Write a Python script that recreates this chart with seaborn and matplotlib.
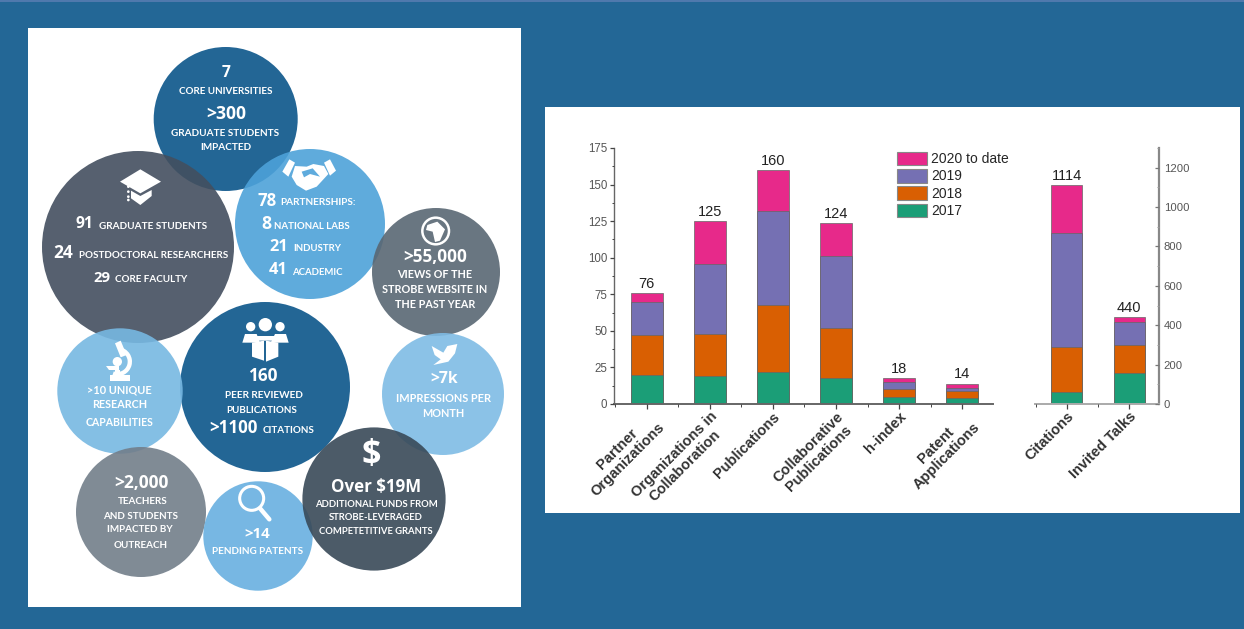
import numpy as np
import matplotlib
matplotlib.use("Agg")
import matplotlib.pyplot as plt
from matplotlib.patches import Circle, Polygon, Rectangle, Patch, Wedge
from matplotlib.ticker import MultipleLocator
import seaborn as sns

sns.set_theme(style="white")
W, H = 1244, 629

# ---------- chart data ----------
cats_left = ["Partner\nOrganizations", "Organizations in\nCollaboration", "Publications",
             "Collaborative\nPublications", "h-index", "Patent\nApplications"]
y2017_left = [20, 19, 22, 18, 5, 4]
y2018_left = [27, 29, 46, 34, 5, 5]
y2019_left = [23, 48, 64, 49, 5, 2]
y2020_left = [6, 29, 28, 23, 3, 3]
totals_left = [76, 125, 160, 124, 18, 14]

cats_right = ["Citations", "Invited Talks"]
y2017_right = [62, 156]
y2018_right = [227, 142]
y2019_right = [581, 118]
y2020_right = [244, 24]
totals_right = [1114, 440]

series_names = ["2017", "2018", "2019", "2020 to date"]
series_colors = ["#1b9e77", "#d95f02", "#7570b3", "#e7298a"]

# ---------- infographic content ----------
BLUE, GREY, SKY, SLATE = "#236696", "#56616f", "#5fabdd", "#6a7681"
circles = [  # x, y, r, colour (pixels)
    (225.7, 119, 72, BLUE), (138, 247, 96, GREY), (310, 224, 75, SKY), (436, 272, 64, SLATE),
    (265, 387, 85, BLUE), (120, 391, 62.7, "#85bfe5"), (443, 394, 61, "#8cc3e8"),
    (141, 512, 65, "#808b96"), (258, 536, 54.7, "#77b8e3"), (374, 499, 71.6, "#4c5b69"),
]
labels_small = [  # x, y, text, target width
    (225.7, 91, "CORE UNIVERSITIES", 94), (225, 133.7, "GRADUATE STUDENTS", 108), (226, 147.3, "IMPACTED", 51),
    (153, 226.7, "GRADUATE STUDENTS", 108), (153.7, 255.7, "POSTDOCTORAL RESEARCHERS", 149),
    (150.7, 279, "CORE FACULTY", 72), (317.7, 202.7, "PARTNERSHIPS:", 76), (312.3, 226.7, "NATIONAL LABS", 76),
    (317, 248.7, "INDUSTRY", 48), (317, 272.3, "ACADEMIC", 51), (435, 274.7, "VIEWS OF THE", 75),
    (434.3, 289.7, "STROBE WEBSITE IN", 105), (435, 305, "THE PAST YEAR", 80),
    (119.3, 389.7, ">10 UNIQUE", 65), (119.3, 405, "RESEARCH", 55), (119.3, 422, "CAPABILITIES", 68),
    (263.7, 395.3, "PEER REVIEWED", 78), (261.3, 410.7, "PUBLICATIONS", 71), (288.3, 430.7, "CITATIONS", 52),
    (443.3, 398.3, "IMPRESSIONS PER", 95), (443.7, 413.7, "MONTH", 42), (142.7, 501, "TEACHERS", 50),
    (140.7, 516.3, "AND STUDENTS", 75), (140, 530, "IMPACTED BY", 66), (141, 545.3, "OUTREACH", 54),
    (258, 552, "PENDING PATENTS", 91), (376, 504.7, "ADDITIONAL FUNDS FROM", 124),
    (376, 518, "STROBE-LEVERAGED", 94), (376, 531.7, "COMPETETITIVE GRANTS", 115),
]
labels_big = [
    (225.7, 73, "7", 9), (226, 114, ">300", 40), (84, 224, "91", 18), (63.3, 253, "24", 20), (102.3, 277.7, "29", 17),
    (266.7, 200.7, "78", 19), (266, 224, "8", 10), (279, 246.7, "21", 19), (278, 270, "41", 19),
    (435, 256.7, ">55,000", 64), (262.7, 375.7, "160", 30), (233.7, 428.3, ">1100", 49), (443.7, 379.3, ">7k", 28),
    (141.3, 483.3, ">2,000", 55), (257, 533.7, ">14", 26), (376, 486.7, "Over $19M", 90), (370.7, 455, "$", 19),
]

fig = plt.figure(figsize=(W / 100, H / 100), dpi=100, facecolor="#236796")
bg = fig.add_axes([0, 0, 1, 1], zorder=0)
bg.set_xlim(0, W); bg.set_ylim(H, 0); bg.axis("off")
bg.add_patch(Rectangle((0, 0), W, 2, fc="#4f79ad", ec="none"))
bg.add_patch(Rectangle((28, 28), 493, 579, fc="white", ec="none"))
bg.add_patch(Rectangle((545, 107), 695, 406, fc="white", ec="none"))

ALPHA = 0.9
for x, y, r, c in circles:
    rgb = np.array(matplotlib.colors.to_rgb(c))
    src = np.clip((rgb - (1 - ALPHA)) / ALPHA, 0, 1)
    bg.add_patch(Circle((x, y), r, fc=src, ec="none", alpha=ALPHA))

renderer = fig.canvas.get_renderer()
def fit(x, y, s, w, family, weight):
    t = bg.text(x, y, s, color="white", ha="center", va="center", family=family, weight=weight, fontsize=8)
    t.set_fontsize(8 * w / t.get_window_extent(renderer).width)
for x, y, s, w in labels_small:
    fit(x, y, s, w, "Lato", "bold")
for x, y, s, w in labels_big:
    fit(x, y, s, w, "Open Sans", "bold")

# ---------- icons (white shapes, zoom-crop coordinates divided by 3) ----------
def p2(pts):
    return [(30 + a / 3, 30 + b / 3) for a, b in pts]
def p3(pts):
    return [(30 + a / 3, 310 + b / 3) for a, b in pts]
def poly(pts, c="white"):
    bg.add_patch(Polygon(pts, closed=True, fc=c, ec="none"))
def circ(pt, r, c="white", **k):
    bg.add_patch(Circle(pt, r / 3, fc=c, ec="none", **k))
def ring(pt, r, lw):
    bg.add_patch(Circle(pt, r / 3, fc="none", ec="white", lw=lw))

# graduation cap
poly(p2([(331, 418), (393, 455), (331, 490), (270, 455)]))
poly(p2([(303, 482), (331, 498), (365, 480), (365, 498), (331, 525), (303, 505)]))
for yy in (470, 485, 500, 510):
    circ(p2([(295, yy)])[0], 4)
# handshake
poly(p2([(778, 388), (795, 398), (775, 440), (757, 425)]))
poly(p2([(900, 388), (918, 422), (900, 437), (882, 398)]))
poly(p2([(795, 408), (830, 410), (850, 402), (882, 408), (895, 432), (860, 470), (828, 482), (800, 465), (785, 440)]))
poly(p2([(815, 425), (848, 415), (870, 440), (840, 432), (822, 442)]), SKY)
# globe
ring(p2([(1217, 603)])[0], 40, 1.8)
poly(p2([(1192, 585), (1222, 575), (1245, 598), (1230, 632), (1215, 636), (1208, 605), (1188, 600)]))
# microscope
poly(p3([(272, 92), (290, 135), (272, 142), (255, 100)]))
bg.add_patch(Wedge(p3([(262, 155)])[0], 44 / 3, -80, 110, width=13 / 3, fc="white", ec="none"))
circ(p3([(262, 155)])[0], 14)
poly(p3([(228, 168), (268, 168), (268, 180), (236, 180)]))
poly(p3([(240, 196), (300, 196), (300, 212), (240, 212)]))
poly(p3([(255, 180), (270, 180), (270, 196), (255, 196)]))
# twitter bird
poly(p3([(1205, 108), (1240, 128), (1252, 108), (1282, 102), (1275, 130), (1255, 155), (1210, 165), (1232, 148), (1214, 135)]))
# people with book
for xx, yy, rr in [(662, 50, 14), (706, 44, 20), (750, 50, 14)]:
    circ(p3([(xx, yy)])[0], rr)
poly(p3([(637, 98), (645, 72), (680, 72), (690, 98)]))
poly(p3([(722, 98), (735, 72), (768, 72), (776, 98)]))
poly(p3([(680, 78), (732, 78), (745, 92), (668, 92)]))
poly(p3([(666, 98), (702, 92), (702, 152), (666, 140)]))
poly(p3([(708, 92), (745, 98), (745, 140), (708, 155)]))
# magnifier
ring(p3([(665, 565)])[0], 36, 2.2)
bg.plot(*zip(*p3([(690, 595), (718, 628)])), color="white", lw=3.2, solid_capstyle="round")

# ---------- bar charts ----------
def ax_px(l, r, top, bottom):
    return fig.add_axes([l / W, 1 - bottom / H, (r - l) / W, (bottom - top) / H], zorder=2)

ax1 = ax_px(614, 993, 148, 404)
ax2 = ax_px(1035, 1159, 148, 404)
DARK = "#444444"

def stacked(ax, cats, segs, totals):
    cum = np.cumsum(np.array(segs), axis=0)
    for level, color in zip(cum[::-1], series_colors[::-1]):
        sns.barplot(x=cats, y=level, color=color, width=0.5, saturation=1,
                    edgecolor="#666666", linewidth=0.5, ax=ax)
    for i, v in enumerate(totals):
        ax.annotate(str(v), (i, v), xytext=(0, 1.5), textcoords="offset points", ha="center", va="bottom",
                    fontsize=10.5, family="Liberation Sans", color="#222222")
    ax.patch.set_alpha(0)
    ax.set_xlabel(""); ax.set_ylabel("")
    ax.set_xticks(range(len(cats)))
    ax.set_xticklabels(cats, rotation=45, ha="right", va="top", rotation_mode="anchor", ma="center",
                       fontsize=10.5, family="Liberation Sans", weight="bold", color="#333333", linespacing=1.12)
    ax.xaxis.set_minor_locator(MultipleLocator(0.5))
    ax.tick_params(axis="x", which="major", bottom=True, length=3.5, width=0.9, color=DARK, pad=0.5)
    ax.tick_params(axis="x", which="minor", bottom=True, length=2, width=0.7, color=DARK)
    for s in ax.spines.values():
        s.set_visible(False)
    ax.spines["bottom"].set_visible(True)
    ax.spines["bottom"].set_color("#666666")
    ax.spines["bottom"].set_linewidth(1.4)
    ax.set_axisbelow(False)

stacked(ax1, cats_left, [y2017_left, y2018_left, y2019_left, y2020_left], totals_left)
ax1.set_xlim(-0.52, 5.49); ax1.set_ylim(0, 175)
ax1.yaxis.set_major_locator(MultipleLocator(25)); ax1.yaxis.set_minor_locator(MultipleLocator(12.5))
ax1.spines["left"].set_visible(True); ax1.spines["left"].set_color("#666666"); ax1.spines["left"].set_linewidth(1.0)
ax1.tick_params(axis="y", which="major", left=True, length=3.2, width=0.9, color=DARK, labelsize=8.3, labelcolor="#555555", pad=1.5)
ax1.tick_params(axis="y", which="minor", left=True, length=1.8, width=0.7, color=DARK)

stacked(ax2, cats_right, [y2017_right, y2018_right, y2019_right, y2020_right], totals_right)
ax2.set_xlim(-0.51, 1.48); ax2.set_ylim(0, 1300)
ax2.yaxis.set_label_position("right"); ax2.yaxis.tick_right()
ax2.yaxis.set_major_locator(MultipleLocator(200)); ax2.yaxis.set_minor_locator(MultipleLocator(100))
ax2.spines["right"].set_visible(True); ax2.spines["right"].set_color("#888888"); ax2.spines["right"].set_linewidth(1.6)
ax2.spines["bottom"].set_color("#aaaaaa")
ax2.tick_params(axis="y", which="major", right=True, left=False, direction="in", length=3, width=0.9, color="#777777",
                labelsize=8.1, labelcolor="#555555", pad=3.5)
ax2.tick_params(axis="y", which="minor", right=True, left=False, direction="in", length=1.8, width=0.7, color="#999999")

for a in (ax1, ax2):
    for lab in a.get_yticklabels():
        lab.set_family("Liberation Sans")

handles = [Patch(fc=c, ec="#888888", lw=0.8) for c in series_colors[::-1]]
ax1.legend(handles, series_names[::-1], loc="upper left",
           bbox_to_anchor=((897 - 614) / 379, (404 - 151.5) / 256),
           frameon=False, borderpad=0, borderaxespad=0, handlelength=2.15, handleheight=1.15,
           labelspacing=0.2, handletextpad=0.28,
           prop={"family": "Liberation Sans", "size": 10})

fig.savefig("out.png", dpi=100, facecolor=fig.get_facecolor())
